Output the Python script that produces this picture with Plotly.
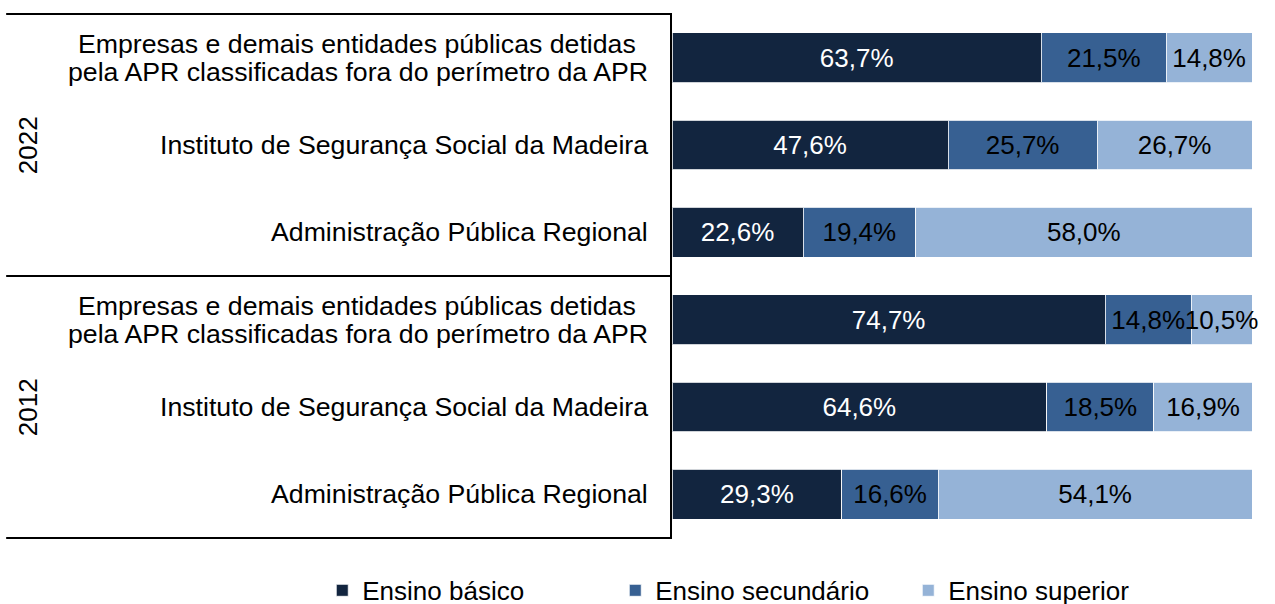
import plotly.graph_objects as go

years = ["2022", "2012"]
entities = [
    "Empresas e demais entidades públicas detidas<br>pela APR classificadas fora do perímetro da APR",
    "Instituto de Segurança Social da Madeira",
    "Administração Pública Regional",
]
series_names = ["Ensino básico", "Ensino secundário", "Ensino superior"]
# values per row, top to bottom: 2022 (Empresas, ISSM, APR), 2012 (Empresas, ISSM, APR)
basico = [63.7, 47.6, 22.6, 74.7, 64.6, 29.3]
secundario = [21.5, 25.7, 19.4, 14.8, 18.5, 16.6]
superior = [14.8, 26.7, 58.0, 10.5, 16.9, 54.1]
colors = ["#12253F", "#376092", "#95B3D7"]
text_colors = ["white", "black", "black"]

FONT = "Liberation Sans, Arial, sans-serif"
FS = 26
FS_LAB = 26.7
LINE_GAP = 28

row_labels = [e for _ in years for e in entities]
ypos = list(range(len(row_labels)))

fig = go.Figure()
for name, vals, col, tc in zip(series_names, [basico, secundario, superior], colors, text_colors):
    fig.add_trace(go.Bar(
        name=name, x=vals, y=ypos, orientation="h", width=0.57,
        marker=dict(color=col, line=dict(color="rgba(255,255,255,0.8)", width=1)),
        text=[f"{v:.1f}%".replace(".", ",") for v in vals],
        textposition="inside", insidetextanchor="middle", textangle=0,
        constraintext="none", cliponaxis=False,
        textfont=dict(color=tc, size=FS, family=FONT),
        hoverinfo="skip",
    ))

annotations = []
for yp, lab in zip(ypos, row_labels):
    lines = lab.split("<br>")
    nl = len(lines)
    for j, ln in enumerate(lines):
        annotations.append(dict(
            x=0, xref="paper", y=yp, yref="y", text=ln, showarrow=False,
            xanchor="right", yanchor="middle", xshift=-22 - (12 if (nl > 1 and j == 0) else 0),
            yshift=((nl - 1) / 2 - j) * LINE_GAP,
            font=dict(size=FS_LAB, family=FONT, color="black"),
        ))
n = len(entities)
for i, yr in enumerate(years):
    yc = (i * n + (i * n + n - 1)) / 2
    annotations.append(dict(
        x=-1.11, xref="paper", y=yc, yref="y", text=yr, showarrow=False,
        textangle=-90, xanchor="center", yanchor="middle",
        font=dict(size=FS, family=FONT, color="black"),
    ))

shapes = []
for k in range(len(years) + 1):
    yy = 1 - k / len(years)
    shapes.append(dict(type="line", xref="paper", yref="paper", x0=-1.148, x1=0,
                       y0=yy, y1=yy, line=dict(color="black", width=2)))

fig.update_layout(
    barmode="stack",
    width=1275, height=604,
    margin=dict(l=672, r=23, t=14, b=66, autoexpand=False),
    paper_bgcolor="white", plot_bgcolor="white",
    font=dict(family=FONT, size=FS, color="black"),
    xaxis=dict(range=[0, 100], visible=False, fixedrange=True),
    yaxis=dict(range=[5.5, -0.5], showticklabels=False, showgrid=False, zeroline=False,
               showline=True, linecolor="black", linewidth=2, ticks="", fixedrange=True),
    showlegend=True,
    legend=dict(orientation="h", x=-0.603, xanchor="left", y=-0.1, yanchor="middle",
                entrywidth=248, entrywidthmode="pixels", traceorder="normal",
                font=dict(size=FS, family=FONT, color="black"), bgcolor="rgba(0,0,0,0)"),
    annotations=annotations,
    shapes=shapes,
)

fig.write_html("out.html", config={"displayModeBar": False},
               post_script="document.body.style.margin='0';")
